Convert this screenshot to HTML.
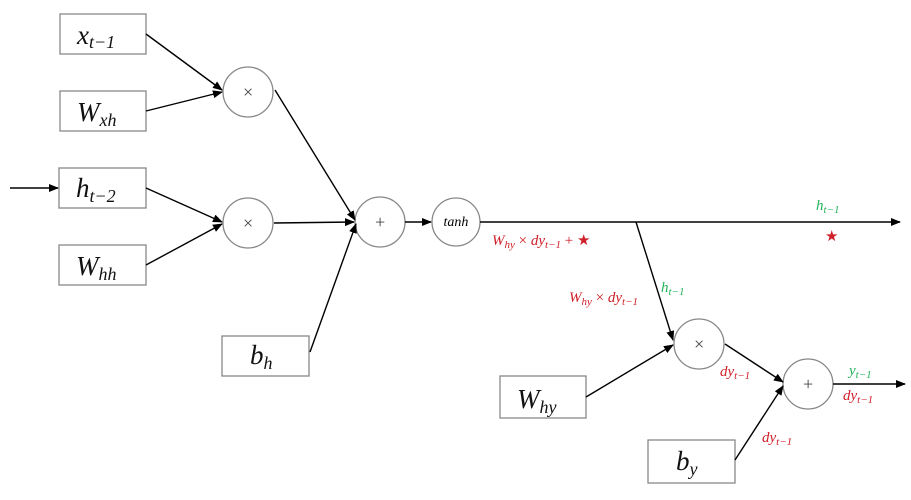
<!DOCTYPE html><html><head><style>body{margin:0;background:#fff}svg text{font-family:"Liberation Serif",serif;font-style:italic}</style></head><body>
<svg width="911" height="495" viewBox="0 0 911 495">
<defs><marker id="a" markerWidth="10" markerHeight="8" refX="9" refY="4" orient="auto" markerUnits="userSpaceOnUse"><path d="M0,0L10,4L0,8z" fill="#000"/></marker></defs>
<g fill="#fff" stroke="#888" stroke-width="1.3">
<rect x="60" y="14" width="86" height="40"/><rect x="60" y="91" width="86" height="40"/>
<rect x="59" y="168" width="87" height="40"/><rect x="59" y="245" width="87" height="40"/>
<rect x="222" y="336" width="87" height="40"/><rect x="500" y="376" width="86" height="42"/>
<rect x="648" y="440" width="87" height="43"/>
<circle cx="248" cy="92" r="25"/><circle cx="248" cy="223" r="25"/><circle cx="380" cy="222" r="25"/>
<circle cx="456" cy="222" r="24"/><circle cx="699" cy="344" r="25"/><circle cx="808" cy="384" r="25"/>
</g>
<g stroke="#000" stroke-width="1.4" fill="none" marker-end="url(#a)">
<line x1="10" y1="188" x2="58" y2="188"/>
<line x1="146" y1="34" x2="222" y2="90"/><line x1="146" y1="111" x2="222" y2="92"/>
<line x1="146" y1="188" x2="222" y2="222"/><line x1="146" y1="265" x2="222" y2="224"/>
<line x1="275" y1="90" x2="355" y2="220"/><line x1="274" y1="223" x2="354" y2="222"/>
<line x1="310" y1="352" x2="356" y2="224"/><line x1="405" y1="222" x2="431" y2="222"/>
<line x1="480" y1="222" x2="900" y2="222"/><line x1="636" y1="222" x2="673" y2="340"/>
<line x1="586" y1="397" x2="673" y2="345"/><line x1="725" y1="344" x2="783" y2="382"/>
<line x1="735" y1="460" x2="783" y2="386"/><line x1="833" y1="384" x2="905" y2="384"/>
</g>
<g font-size="18" text-anchor="middle" fill="#444" style="font-style:normal">
<text x="248" y="98">×</text><text x="248" y="229">×</text><text x="380" y="228">+</text>
<text x="699" y="350">×</text><text x="808" y="390">+</text></g>
<text x="456" y="226" font-size="14" text-anchor="middle">tanh</text>
<g font-size="27" fill="#111">
<text x="77" y="44">x<tspan font-size="18" dy="4">t−1</tspan></text>
<text x="77" y="121">W<tspan font-size="18" dy="5">xh</tspan></text>
<text x="76" y="197">h<tspan font-size="18" dy="5">t−2</tspan></text>
<text x="76" y="275">W<tspan font-size="18" dy="5">hh</tspan></text>
<text x="250" y="364">b<tspan font-size="18" dy="5">h</tspan></text>
<text x="517" y="408">W<tspan font-size="18" dy="5">hy</tspan></text>
<text x="676" y="470">b<tspan font-size="18" dy="5">y</tspan></text>
</g>
<g font-size="15" fill="#22b35a">
<text x="816" y="210">h<tspan font-size="11" dy="3">t−1</tspan></text>
<text x="661" y="292">h<tspan font-size="11" dy="3">t−1</tspan></text>
<text x="849" y="375">y<tspan font-size="11" dy="3">t−1</tspan></text>
</g>
<g font-size="15" fill="#d0202a">
<text x="825" y="241" style="font-style:normal">★</text>
<text x="492" y="245">W<tspan font-size="11" dy="3">hy</tspan><tspan dy="-3" style="font-style:normal"> × </tspan>dy<tspan font-size="11" dy="3">t−1</tspan><tspan dy="-3" style="font-style:normal"> + ★</tspan></text>
<text x="569" y="302">W<tspan font-size="11" dy="3">hy</tspan><tspan dy="-3" style="font-style:normal"> × </tspan>dy<tspan font-size="11" dy="3">t−1</tspan></text>
<text x="720" y="376">dy<tspan font-size="11" dy="3">t−1</tspan></text>
<text x="843" y="400">dy<tspan font-size="11" dy="3">t−1</tspan></text>
<text x="762" y="442">dy<tspan font-size="11" dy="3">t−1</tspan></text>
</g>
</svg></body></html>
